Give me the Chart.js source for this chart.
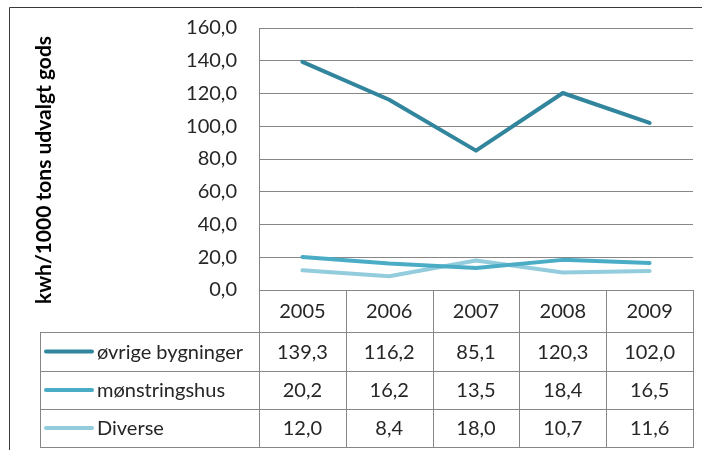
<!DOCTYPE html>
<html>
<head>
<meta charset="utf-8">
<script src="https://cdn.jsdelivr.net/npm/chart.js@4"></script>
<style>
  body { margin: 0; background: #fff; }
  #wrap { width: 702px; height: 450px; position: relative; }
</style>
</head>
<body>
<div id="wrap"><canvas id="chart" width="702" height="450"></canvas></div>
<script>
const years = ["2005", "2006", "2007", "2008", "2009"];
const seriesNames = ["øvrige bygninger", "mønstringshus", "Diverse"];
const ovrige = [139.3, 116.2, 85.1, 120.3, 102.0];
const monstring = [20.2, 16.2, 13.5, 18.4, 16.5];
const diverse = [12.0, 8.4, 18.0, 10.7, 11.6];
const seriesColors = ["#31859C", "#4BACC6", "#93CDDD"];
const yTitle = "kwh/1000 tons udvalgt gods";

const FONT = "Lato, 'Noto Sans', sans-serif";
const TEXT = "#262626";
const GRID = "#868686";

function fmt(v) {
  return v.toFixed(1).replace(".", ",");
}

// draws the data table under the plot, the axis title and the outer frame
const tablePlugin = {
  id: "dataTable",
  afterDraw(chart) {
    const ctx = chart.ctx;
    const x = chart.scales.x;
    const area = chart.chartArea;
    const colW = (area.right - area.left) / years.length;
    const legendLeft = 40;
    const rows = [area.bottom, 332, 371, 409, 447];
    const all = [ovrige, monstring, diverse];

    ctx.save();
    ctx.strokeStyle = GRID;
    ctx.lineWidth = 1;
    ctx.beginPath();
    // column lines
    for (let i = 0; i <= years.length; i++) {
      const cx = Math.round(area.left + i * colW) + 0.5;
      ctx.moveTo(cx, rows[0]);
      ctx.lineTo(cx, rows[4]);
    }
    // row lines
    for (let r = 1; r < rows.length; r++) {
      ctx.moveTo(legendLeft, rows[r] + 0.5);
      ctx.lineTo(Math.round(area.right) + 1, rows[r] + 0.5);
    }
    ctx.moveTo(legendLeft + 0.5, rows[1]);
    ctx.lineTo(legendLeft + 0.5, rows[4]);
    ctx.stroke();

    ctx.fillStyle = TEXT;
    ctx.font = "20px " + FONT;
    ctx.textAlign = "center";
    ctx.textBaseline = "middle";
    years.forEach((yr, i) => {
      ctx.fillText(yr, x.getPixelForValue(i), (rows[0] + rows[1]) / 2 + 1);
    });
    all.forEach((vals, s) => {
      const cy = (rows[s + 1] + rows[s + 2]) / 2 + 1;
      vals.forEach((v, i) => {
        ctx.fillText(fmt(v), x.getPixelForValue(i), cy);
      });
    });

    // legend keys
    ctx.textAlign = "left";
    all.forEach((vals, s) => {
      const cy = (rows[s + 1] + rows[s + 2]) / 2;
      ctx.strokeStyle = seriesColors[s];
      ctx.lineWidth = 4;
      ctx.lineCap = "round";
      ctx.beginPath();
      ctx.moveTo(46, cy);
      ctx.lineTo(92, cy);
      ctx.stroke();
      ctx.fillStyle = TEXT;
      ctx.fillText(seriesNames[s], 97, cy + 1);
    });

    // y axis title
    ctx.save();
    ctx.translate(44, 170);
    ctx.rotate(-Math.PI / 2);
    ctx.textAlign = "center";
    ctx.font = "bold 21px " + FONT;
    ctx.fillStyle = "#000";
    ctx.fillText(yTitle, 0, 0);
    ctx.restore();

    // outer frame
    ctx.strokeStyle = "#3a3a3a";
    ctx.lineWidth = 1;
    ctx.lineCap = "butt";
    ctx.beginPath();
    ctx.moveTo(9.5, 450);
    ctx.lineTo(9.5, 7.5);
    ctx.lineTo(702, 7.5);
    ctx.stroke();
    ctx.restore();
  }
};

function makeSet(label, data, color) {
  return {
    label: label,
    data: data,
    borderColor: color,
    backgroundColor: color,
    borderWidth: 4,
    pointRadius: 0,
    tension: 0,
    borderCapStyle: "round",
    borderJoinStyle: "round"
  };
}

new Chart(document.getElementById("chart").getContext("2d"), {
  type: "line",
  data: {
    labels: years,
    datasets: [
      makeSet(seriesNames[0], ovrige, seriesColors[0]),
      makeSet(seriesNames[1], monstring, seriesColors[1]),
      makeSet(seriesNames[2], diverse, seriesColors[2])
    ]
  },
  options: {
    responsive: false,
    animation: false,
    layout: { padding: { top: 28, right: 9, bottom: 160, left: 0 } },
    plugins: { legend: { display: false }, tooltip: { enabled: false } },
    scales: {
      x: {
        offset: true,
        grid: { display: false },
        border: { display: false },
        ticks: { display: false },
        afterFit: (s) => { s.height = 0; }
      },
      y: {
        min: 0,
        max: 160,
        ticks: {
          stepSize: 20,
          padding: 22,
          color: TEXT,
          font: { family: FONT, size: 20 },
          callback: (v) => fmt(v)
        },
        grid: { color: GRID, drawTicks: false },
        border: { color: GRID },
        afterFit: (s) => { s.width = 259; s.paddingTop = 12; s.paddingBottom = 12; }
      }
    }
  },
  plugins: [tablePlugin]
});
</script>
</body>
</html>
